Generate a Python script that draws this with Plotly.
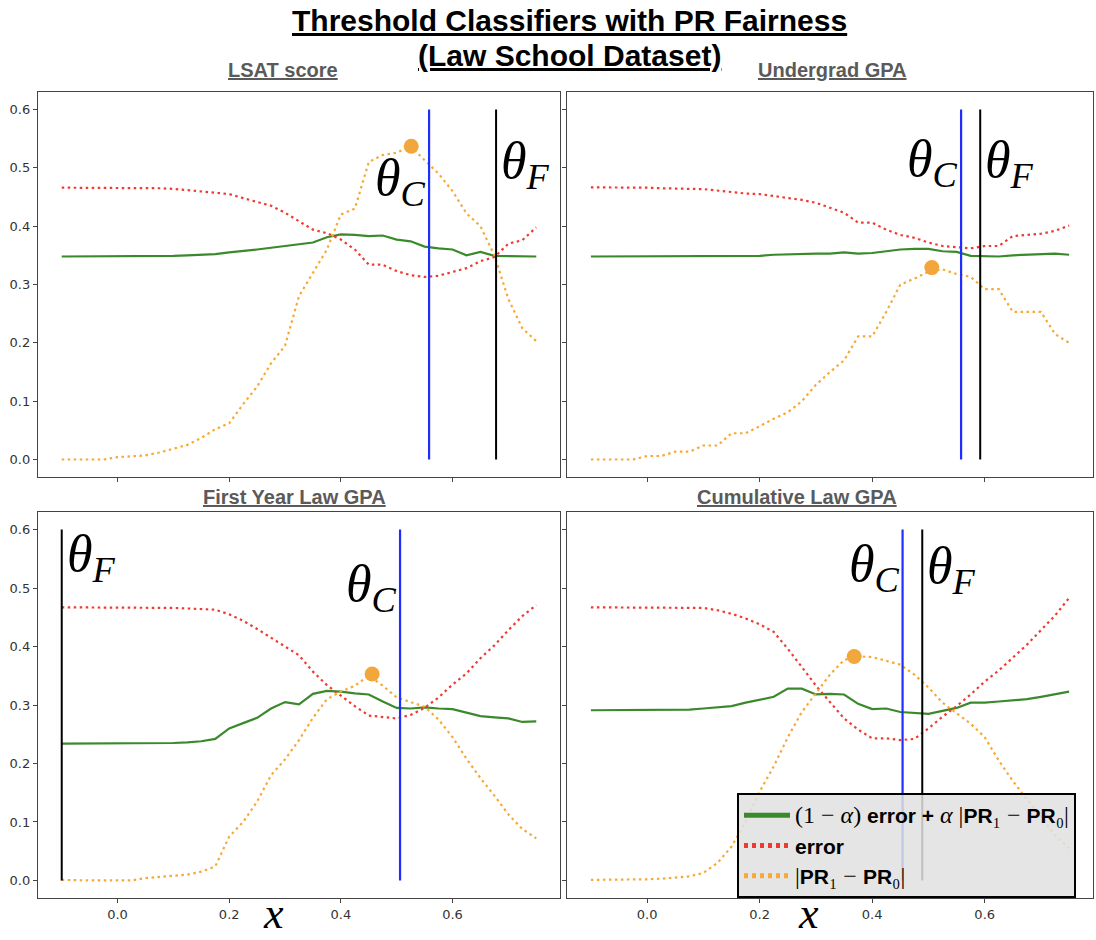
import plotly.graph_objects as go

# ── data ─────────────────────────────────────────────────────
X = [-0.1, -0.075, -0.05, -0.025, 0.0, 0.025, 0.05, 0.075, 0.1, 0.125,
     0.15, 0.175, 0.2, 0.225, 0.25, 0.275, 0.3, 0.325, 0.35, 0.375,
     0.4, 0.425, 0.45, 0.475, 0.5, 0.525, 0.55, 0.575, 0.6, 0.625,
     0.65, 0.675, 0.7, 0.725, 0.75]

PANELS = ["LSAT score", "Undergrad GPA", "First Year Law GPA", "Cumulative Law GPA"]

LSAT_OBJ = [0.348, 0.348, 0.348, 0.348, 0.348, 0.348, 0.349, 0.349, 0.349, 0.350,
            0.351, 0.352, 0.355, 0.357, 0.360, 0.363, 0.366, 0.370, 0.372, 0.381,
            0.386, 0.385, 0.383, 0.384, 0.377, 0.374, 0.365, 0.362, 0.360, 0.350,
            0.356, 0.349, 0.349, 0.348, 0.348]
LSAT_ERR = [0.466, 0.466, 0.466, 0.466, 0.466, 0.466, 0.466, 0.465, 0.464, 0.462,
            0.460, 0.457, 0.455, 0.448, 0.442, 0.435, 0.423, 0.408, 0.394, 0.388,
            0.377, 0.360, 0.334, 0.334, 0.323, 0.316, 0.313, 0.315, 0.321, 0.328,
            0.340, 0.347, 0.370, 0.376, 0.398]
LSAT_PR = [0.0, 0.0, 0.0, 0.0, 0.004, 0.005, 0.007, 0.012, 0.018, 0.025,
           0.037, 0.052, 0.062, 0.095, 0.125, 0.165, 0.195, 0.28, 0.32, 0.36,
           0.42, 0.43, 0.51, 0.522, 0.526, 0.537, 0.513, 0.49, 0.46, 0.422,
           0.40, 0.35, 0.275, 0.225, 0.203]

UGPA_OBJ = [0.348, 0.348, 0.348, 0.348, 0.348, 0.348, 0.348, 0.348, 0.348, 0.348,
            0.348, 0.349, 0.349, 0.351, 0.352, 0.352, 0.353, 0.353, 0.355, 0.353,
            0.354, 0.357, 0.360, 0.361, 0.361, 0.357, 0.356, 0.349, 0.348, 0.348,
            0.350, 0.351, 0.352, 0.353, 0.351]
UGPA_ERR = [0.4665, 0.4665, 0.4665, 0.466, 0.466, 0.465, 0.465, 0.464, 0.4635, 0.461,
            0.458, 0.456, 0.455, 0.452, 0.449, 0.445, 0.440, 0.431, 0.423, 0.406,
            0.406, 0.394, 0.385, 0.380, 0.372, 0.366, 0.364, 0.362, 0.366, 0.366,
            0.383, 0.385, 0.387, 0.392, 0.401]
UGPA_PR = [0.0, 0.0, 0.0, 0.0, 0.006, 0.006, 0.0135, 0.0135, 0.024, 0.024,
           0.045, 0.045, 0.057, 0.07, 0.081, 0.10, 0.128, 0.15, 0.17, 0.211,
           0.211, 0.253, 0.30, 0.31, 0.322, 0.326, 0.318, 0.313, 0.292, 0.292,
           0.253, 0.253, 0.253, 0.215, 0.20]

FYGPA_OBJ = [0.234, 0.234, 0.234, 0.234, 0.234, 0.234, 0.234, 0.234, 0.235, 0.236,
             0.238, 0.242, 0.260, 0.269, 0.278, 0.294, 0.305, 0.301, 0.319, 0.324,
             0.323, 0.320, 0.318, 0.306, 0.295, 0.294, 0.296, 0.294, 0.293, 0.287,
             0.281, 0.279, 0.277, 0.271, 0.272]
FYGPA_ERR = [0.467, 0.467, 0.467, 0.467, 0.467, 0.467, 0.466, 0.466, 0.466, 0.465,
             0.464, 0.463, 0.455, 0.444, 0.430, 0.415, 0.401, 0.385, 0.357, 0.334,
             0.316, 0.298, 0.282, 0.280, 0.277, 0.283, 0.295, 0.313, 0.335, 0.354,
             0.380, 0.402, 0.428, 0.452, 0.471]
FYGPA_PR = [0.001, 0.0, 0.0, 0.0, 0.0, 0.0, 0.004, 0.006, 0.008, 0.010,
            0.015, 0.024, 0.075, 0.10, 0.135, 0.18, 0.207, 0.24, 0.278, 0.31,
            0.323, 0.333, 0.35, 0.333, 0.313, 0.305, 0.297, 0.275, 0.245, 0.208,
            0.175, 0.145, 0.113, 0.088, 0.072]

CGPA_OBJ = [0.291, 0.291, 0.291, 0.291, 0.291, 0.291, 0.291, 0.292, 0.294, 0.296,
            0.298, 0.304, 0.309, 0.314, 0.328, 0.328, 0.318, 0.319, 0.318, 0.302,
            0.293, 0.294, 0.288, 0.287, 0.285, 0.290, 0.295, 0.304, 0.304, 0.306,
            0.308, 0.310, 0.314, 0.318, 0.323]
CGPA_ERR = [0.467, 0.467, 0.467, 0.467, 0.467, 0.467, 0.467, 0.467, 0.466, 0.462,
            0.456, 0.448, 0.438, 0.425, 0.396, 0.365, 0.333, 0.305, 0.277, 0.258,
            0.243, 0.243, 0.240, 0.242, 0.260, 0.280, 0.298, 0.318, 0.340, 0.359,
            0.381, 0.403, 0.428, 0.453, 0.483]
CGPA_PR = [0.001, 0.001, 0.001, 0.001, 0.002, 0.003, 0.005, 0.007, 0.013, 0.030,
           0.058, 0.10, 0.152, 0.195, 0.245, 0.288, 0.32, 0.352, 0.377, 0.383,
           0.382, 0.376, 0.369, 0.352, 0.33, 0.304, 0.286, 0.268, 0.245, 0.205,
           0.17, 0.138, 0.108, 0.077, 0.055]

OBJ = [LSAT_OBJ, UGPA_OBJ, FYGPA_OBJ, CGPA_OBJ]
ERR = [LSAT_ERR, UGPA_ERR, FYGPA_ERR, CGPA_ERR]
PR = [LSAT_PR, UGPA_PR, FYGPA_PR, CGPA_PR]

THETA_C = [0.558, 0.558, 0.506, 0.454]   # blue line
THETA_F = [0.678, 0.592, -0.1, 0.489]    # black line
BEST_X = [0.526, 0.506, 0.456, 0.368]
BEST_Y = [0.537, 0.329, 0.353, 0.383]
LINE_Y = [0.0, 0.6]

X_TICKS = [0.0, 0.2, 0.4, 0.6]
Y_TICKS = [0.0, 0.1, 0.2, 0.3, 0.4, 0.5, 0.6]

# ── style ────────────────────────────────────────────────────
W, H = 1096, 940
GREEN = "#3a8a2c"
RED = "#f03a30"
ORANGE = "#f7a935"
MARK = "#f2a73c"
FRAME = "#444444"
SERIF = "Liberation Serif"
SANS = "Liberation Sans"


def px(v):
    return v / W


def py(v):
    return 1 - v / H


# panel frames in window pixels (left, right) / (top, bottom)
COLS = [(38, 560), (567, 1093)]
ROWS = [(92, 477), (512, 898)]

fig = go.Figure()

for i in range(4):
    sfx = "" if i == 0 else str(i + 1)
    xa, ya = "x" + sfx, "y" + sfx
    fig.add_trace(go.Scatter(x=X, y=OBJ[i], mode="lines", xaxis=xa, yaxis=ya,
                             line=dict(color=GREEN, width=2.2), showlegend=False))
    fig.add_trace(go.Scatter(x=X, y=ERR[i], mode="lines", xaxis=xa, yaxis=ya,
                             line=dict(color=RED, width=2.2, dash="2.5px,3.5px"),
                             showlegend=False))
    fig.add_trace(go.Scatter(x=X, y=PR[i], mode="lines", xaxis=xa, yaxis=ya,
                             line=dict(color=ORANGE, width=2.2, dash="2.5px,3.5px"),
                             showlegend=False))
    fig.add_trace(go.Scatter(x=[THETA_C[i]] * 2, y=LINE_Y, mode="lines",
                             xaxis=xa, yaxis=ya,
                             line=dict(color="#1f2dff", width=2.2), showlegend=False))
    fig.add_trace(go.Scatter(x=[THETA_F[i]] * 2, y=LINE_Y, mode="lines",
                             xaxis=xa, yaxis=ya,
                             line=dict(color="black", width=2), showlegend=False))
    fig.add_trace(go.Scatter(x=[BEST_X[i]], y=[BEST_Y[i]], mode="markers",
                             xaxis=xa, yaxis=ya,
                             marker=dict(color=MARK, size=15), showlegend=False))

# legend-only entries (thicker samples as in the reference)
MATH = f"font-family:{SERIF};font-size:24px"
LEG_NAMES = [
    f"<span style='{MATH}'>(1 − <i>α</i>)</span> <b>error + </b>"
    f"<span style='{MATH}'><i>α</i> |</span><b>PR</b>"
    f"<span style='{MATH}'>₁ − </span><b>PR</b>"
    f"<span style='{MATH}'>₀|</span>",
    "<b>error</b>",
    f"<span style='{MATH}'>|</span><b>PR</b>"
    f"<span style='{MATH}'>₁ − </span><b>PR</b>"
    f"<span style='{MATH}'>₀|</span>",
]
for name, col, dash in zip(LEG_NAMES, [GREEN, RED, ORANGE], ["solid", "4px,4px", "4px,4px"]):
    fig.add_trace(go.Scatter(x=[None], y=[None], mode="lines", xaxis="x4", yaxis="y4",
                             name=name, line=dict(color=col, width=5, dash=dash)))

axis_common = dict(showgrid=False, zeroline=False, showline=True, mirror=True,
                   linecolor=FRAME, linewidth=1.4, ticks="outside", ticklen=4,
                   tickcolor=FRAME, tickwidth=1,
                   tickfont=dict(family="DejaVu Sans", size=13, color="#333333"))

layout = dict(width=W, height=H, margin=dict(l=0, r=0, t=0, b=0),
              paper_bgcolor="white", plot_bgcolor="white",
              showlegend=True,
              legend=dict(x=px(737), y=py(793), xanchor="left", yanchor="top",
                          bgcolor="rgba(224,224,224,0.85)", bordercolor="black",
                          borderwidth=2, tracegroupgap=0, itemwidth=46,
                          font=dict(family=SANS, size=21, color="black")))

for i in range(4):
    r, c = divmod(i, 2)
    sfx = "" if i == 0 else str(i + 1)
    layout["xaxis" + sfx] = dict(axis_common, domain=[px(COLS[c][0]), px(COLS[c][1])],
                                 range=[-0.1425, 0.7925], anchor="y" + sfx,
                                 tickvals=X_TICKS, tickformat=".1f",
                                 showticklabels=(r == 1))
    layout["yaxis" + sfx] = dict(axis_common, domain=[py(ROWS[r][1]), py(ROWS[r][0])],
                                 range=[-0.03, 0.63], anchor="x" + sfx,
                                 tickvals=Y_TICKS, tickformat=".1f",
                                 showticklabels=(c == 0))

fig.update_layout(**layout)

# ── text ─────────────────────────────────────────────────────
ann = []
for line, ty in [("Threshold Classifiers with PR Fairness", 20),
                 ("(Law School Dataset)", 55)]:
    ann.append(dict(xref="paper", yref="paper", x=px(569), y=py(ty),
                    xanchor="center", yanchor="middle", showarrow=False,
                    text=f"<b><u>{line}</u></b>",
                    font=dict(family=SANS, size=30, color="black")))

TITLE_POS = [(283, 70), (832, 70), (294, 497), (797, 497)]
for name, (tx, ty) in zip(PANELS, TITLE_POS):
    ann.append(dict(xref="paper", yref="paper", x=px(tx), y=py(ty),
                    xanchor="center", yanchor="middle", showarrow=False,
                    text=f"<b><u>{name}</u></b>",
                    font=dict(family=SANS, size=20, color="#5a5a5a")))

C_LABEL_Y = [0.476, 0.510, 0.501, 0.535]
F_LABEL_Y = [0.506, 0.508, 0.552, 0.532]
for i in range(4):
    sfx = "" if i == 0 else str(i + 1)
    ann.append(dict(xref="x" + sfx, yref="y" + sfx, x=THETA_C[i], y=C_LABEL_Y[i],
                    xanchor="right", yanchor="middle", xshift=-1, showarrow=False,
                    text="<i>θ</i><sub><i>C</i></sub>",
                    font=dict(family=SERIF, size=52, color="black")))
    ann.append(dict(xref="x" + sfx, yref="y" + sfx, x=THETA_F[i], y=F_LABEL_Y[i],
                    xanchor="left", yanchor="middle", xshift=3, showarrow=False,
                    text="<i>θ</i><sub><i>F</i></sub>",
                    font=dict(family=SERIF, size=52, color="black")))

for tx in (273, 808):
    ann.append(dict(xref="paper", yref="paper", x=px(tx), y=0,
                    xanchor="center", yanchor="bottom", showarrow=False,
                    text="<i>x</i>", font=dict(family=SERIF, size=44, color="black")))

fig.update_layout(annotations=ann)

# the default page body has an 8px margin; drop it so the figure fills the window
fig.write_html("out.html", config={"displayModeBar": False},
               post_script="document.body.style.margin='0';"
                           "document.body.style.overflow='hidden';")
